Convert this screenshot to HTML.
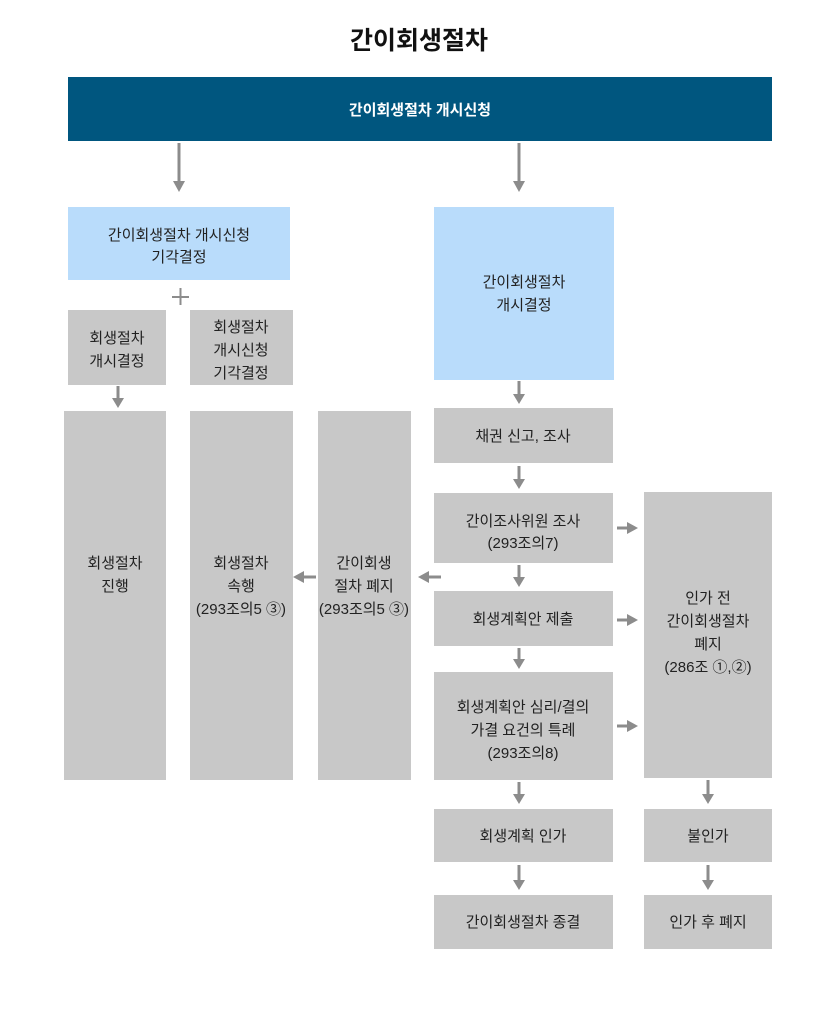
<!DOCTYPE html>
<html><head><meta charset="utf-8"><style>
html,body{margin:0;padding:0;background:#fff;}
svg text{font-family:"Liberation Sans","Noto Sans CJK KR","NanumGothic",sans-serif;}
</style></head><body>
<svg width="838" height="1005" viewBox="0 0 838 1005" xmlns="http://www.w3.org/2000/svg">
<text x="419" y="49" text-anchor="middle" font-size="25" font-weight="bold" fill="#111">간이회생절차</text>
<rect x="68" y="77" width="704" height="64" fill="#00567f"/>
<text x="420" y="115" text-anchor="middle" font-size="15" font-weight="bold" fill="#fff">간이회생절차 개시신청</text>

<g stroke="#8c8c8c" stroke-width="3" fill="none">
<line x1="179" y1="143" x2="179" y2="182"/>
<line x1="519" y1="143" x2="519" y2="182"/>
<line x1="118" y1="386" x2="118" y2="399"/>
<line x1="519" y1="381" x2="519" y2="395"/>
<line x1="519" y1="466" x2="519" y2="480"/>
<line x1="519" y1="565" x2="519" y2="578"/>
<line x1="519" y1="648" x2="519" y2="660"/>
<line x1="519" y1="782" x2="519" y2="795"/>
<line x1="519" y1="865" x2="519" y2="881"/>
<line x1="708" y1="780" x2="708" y2="795"/>
<line x1="708" y1="865" x2="708" y2="881"/>
<line x1="617" y1="528" x2="628" y2="528"/>
<line x1="617" y1="620" x2="628" y2="620"/>
<line x1="617" y1="726" x2="628" y2="726"/>
<line x1="441" y1="577" x2="428" y2="577"/>
<line x1="316" y1="577" x2="303" y2="577"/>
</g>
<g fill="#8c8c8c">
<path d="M173,181 L185,181 L179,192 z"/>
<path d="M513,181 L525,181 L519,192 z"/>
<path d="M112,398 L124,398 L118,408 z"/>
<path d="M513,394 L525,394 L519,404 z"/>
<path d="M513,479 L525,479 L519,489 z"/>
<path d="M513,577 L525,577 L519,587 z"/>
<path d="M513,659 L525,659 L519,669 z"/>
<path d="M513,794 L525,794 L519,804 z"/>
<path d="M513,880 L525,880 L519,890 z"/>
<path d="M702,794 L714,794 L708,804 z"/>
<path d="M702,880 L714,880 L708,890 z"/>
<path d="M627,522 L627,534 L638,528 z"/>
<path d="M627,614 L627,626 L638,620 z"/>
<path d="M627,720 L627,732 L638,726 z"/>
<path d="M429,571 L429,583 L418,577 z"/>
<path d="M304,571 L304,583 L293,577 z"/>
<rect x="172" y="296" width="17" height="2"/>
<rect x="179.5" y="288" width="2" height="17"/>
</g>

<g fill="#b9dcfb">
<rect x="68" y="207" width="222" height="73"/>
<rect x="434" y="207" width="180" height="173"/>
</g>
<g fill="#c8c8c8">
<rect x="68" y="310" width="98" height="75"/>
<rect x="190" y="310" width="103" height="75"/>
<rect x="64" y="411" width="102" height="369"/>
<rect x="190" y="411" width="103" height="369"/>
<rect x="318" y="411" width="93" height="369"/>
<rect x="434" y="408" width="179" height="55"/>
<rect x="434" y="493" width="179" height="70"/>
<rect x="434" y="591" width="179" height="55"/>
<rect x="434" y="672" width="179" height="108"/>
<rect x="434" y="809" width="179" height="53"/>
<rect x="434" y="895" width="179" height="54"/>
<rect x="644" y="492" width="128" height="286"/>
<rect x="644" y="809" width="128" height="53"/>
<rect x="644" y="895" width="128" height="54"/>
</g>

<g font-size="15" fill="#222" text-anchor="middle">
<text x="179" y="240">간이회생절차 개시신청</text>
<text x="179" y="262">기각결정</text>
<text x="524" y="287">간이회생절차</text>
<text x="524" y="310">개시결정</text>
<text x="117" y="343">회생절차</text>
<text x="117" y="366">개시결정</text>
<text x="241" y="332">회생절차</text>
<text x="241" y="355">개시신청</text>
<text x="241" y="378">기각결정</text>
<text x="115" y="568">회생절차</text>
<text x="115" y="591">진행</text>
<text x="241" y="568">회생절차</text>
<text x="241" y="591">속행</text>
<text x="241" y="614">(293조의5 ③)</text>
<text x="364" y="568">간이회생</text>
<text x="364" y="591">절차 폐지</text>
<text x="364" y="614">(293조의5 ③)</text>
<text x="523" y="441">채권 신고, 조사</text>
<text x="523" y="526">간이조사위원 조사</text>
<text x="523" y="548">(293조의7)</text>
<text x="523" y="624">회생계획안 제출</text>
<text x="523" y="712">회생계획안 심리/결의</text>
<text x="523" y="735">가결 요건의 특례</text>
<text x="523" y="758">(293조의8)</text>
<text x="523" y="841">회생계획 인가</text>
<text x="523" y="927">간이회생절차 종결</text>
<text x="708" y="603">인가 전</text>
<text x="708" y="626">간이회생절차</text>
<text x="708" y="649">폐지</text>
<text x="708" y="672">(286조 ①,②)</text>
<text x="708" y="841">불인가</text>
<text x="708" y="927">인가 후 폐지</text>
</g>
</svg>
</body></html>
